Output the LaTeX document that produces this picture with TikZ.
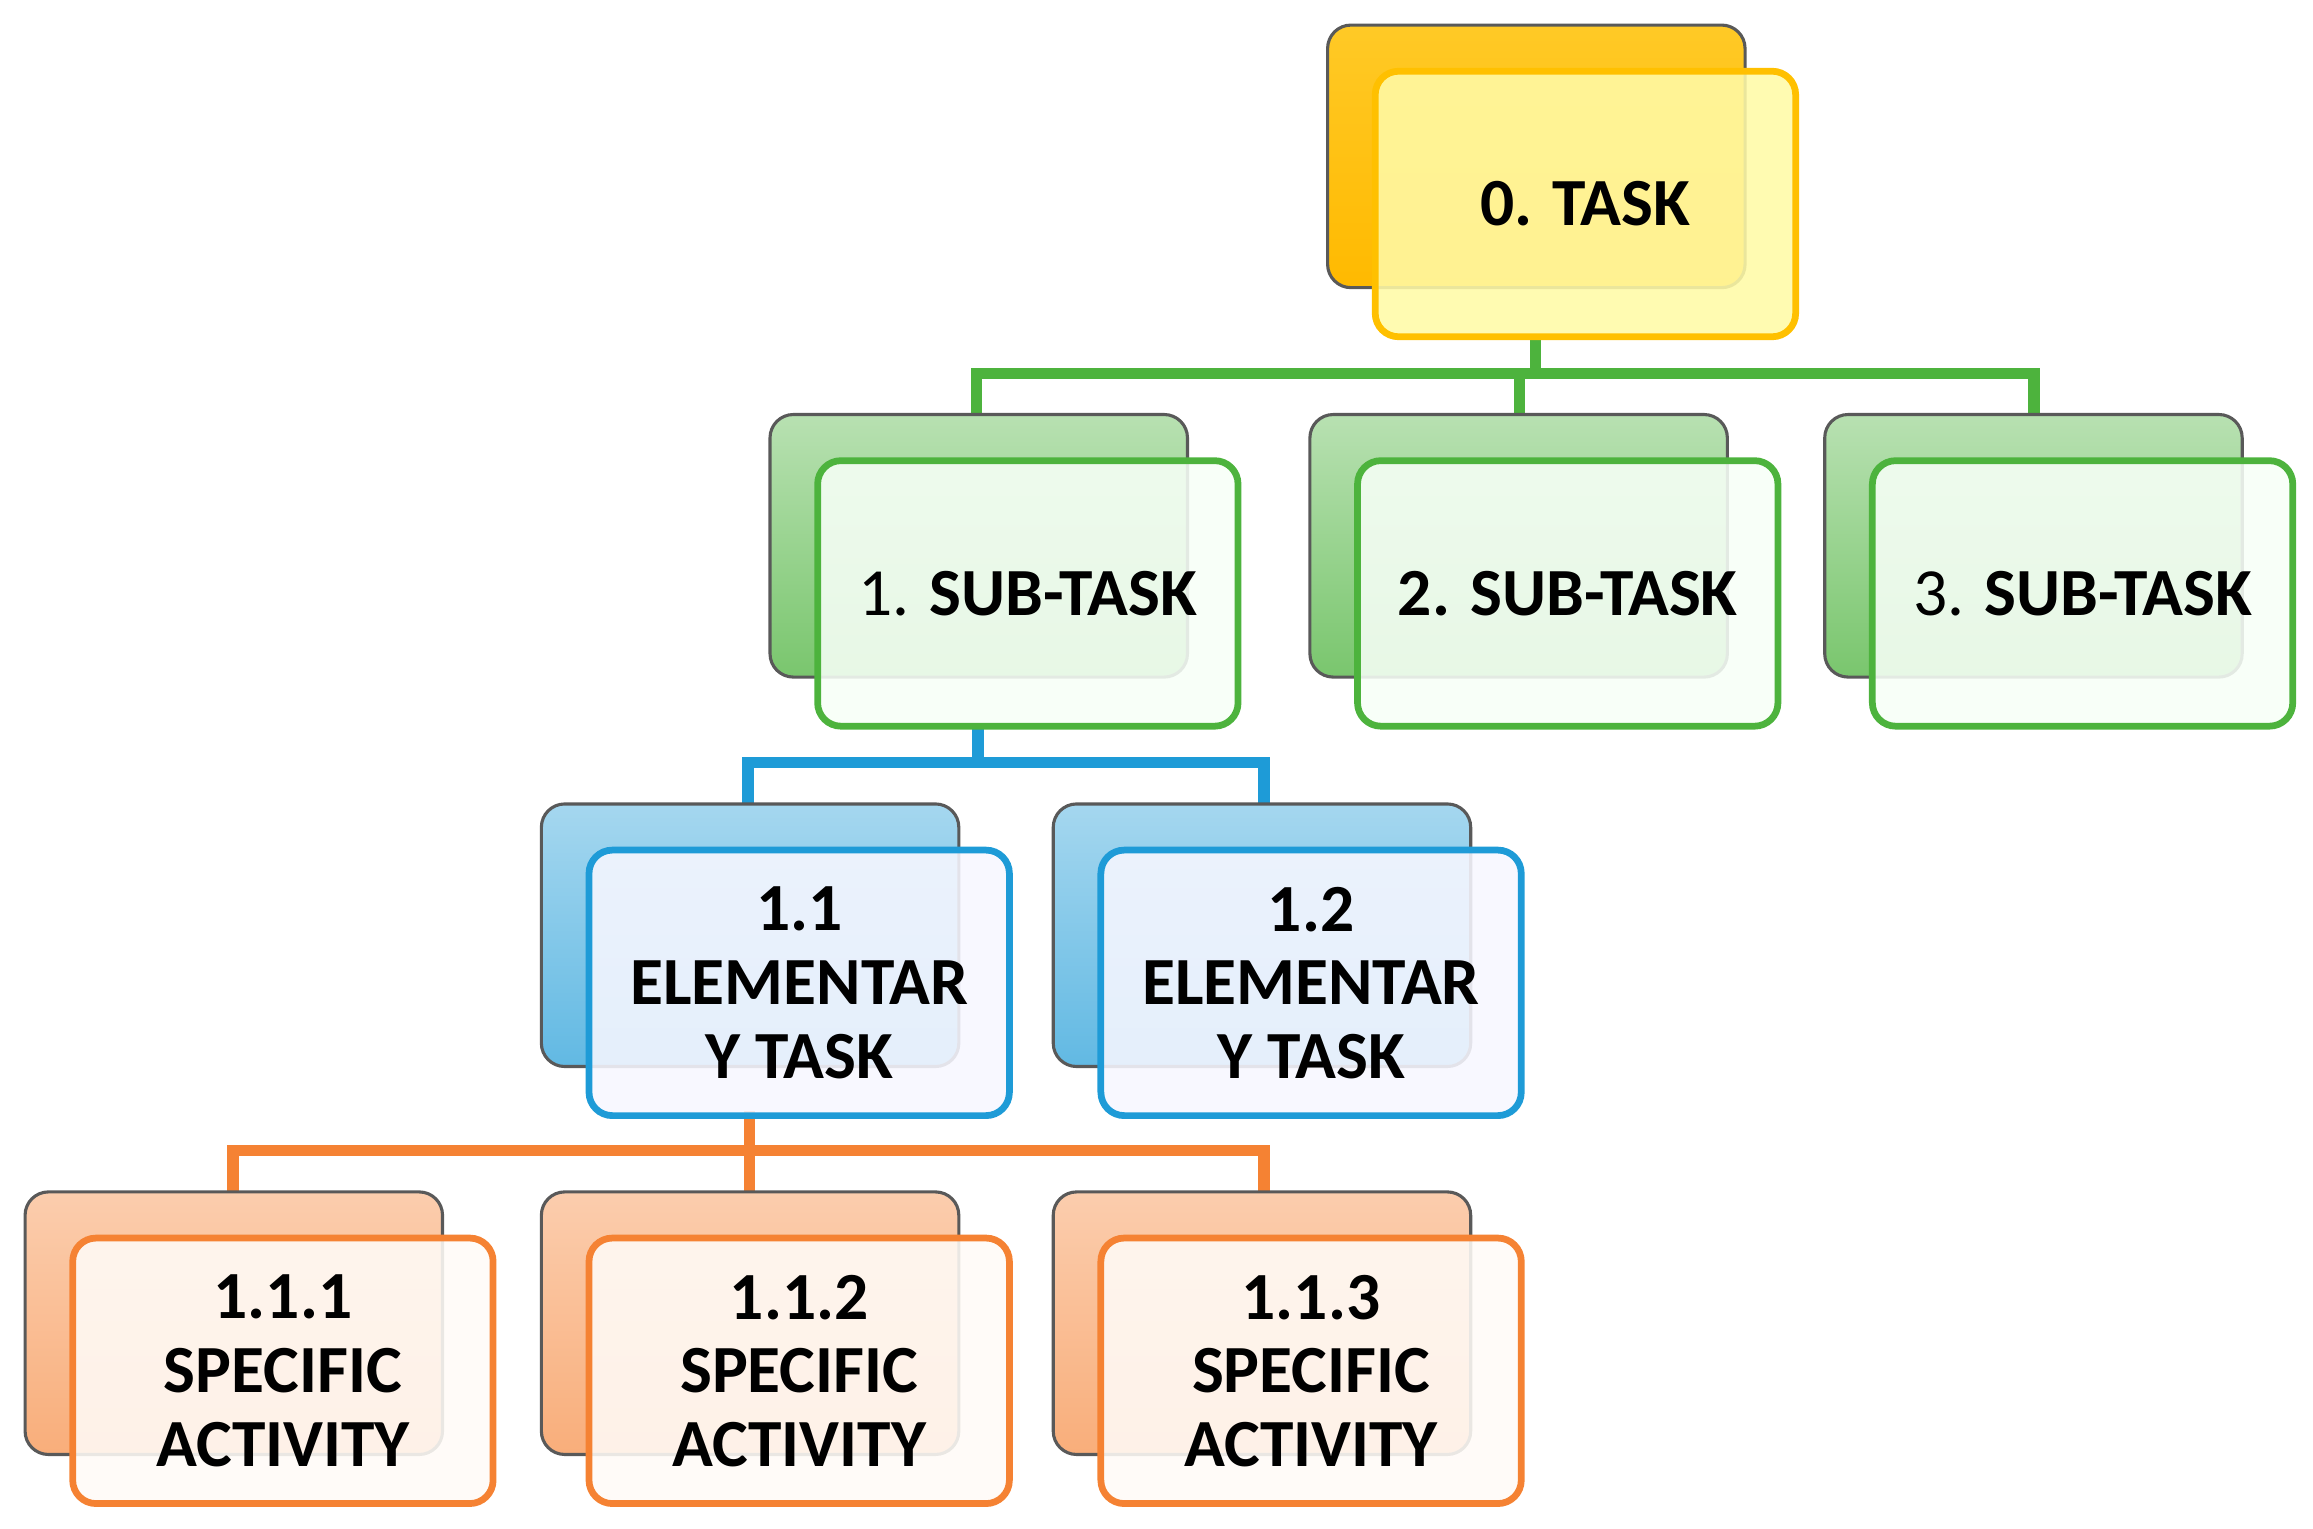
\documentclass[tikz,border=0pt]{standalone}
\usepackage{fontspec}
\setmainfont{Carlito}
\begin{document}
\begin{tikzpicture}[x=0.01cm,y=-0.01cm,
 back/.style={rounded corners=4.5pt, draw=gray!70!black, line width=0.6pt},
 front/.style={rounded corners=4.5pt, line width=1.3pt, fill opacity=0.88, text opacity=1, font=\bfseries\fontsize{13}{14.2}\selectfont, align=center},
 conn/.style={line width=2.2pt}]
\useasboundingbox (0,0) rectangle (1568,1036);
\definecolor{gold}{HTML}{FFC000}
\definecolor{grn}{HTML}{4DB33D}
\definecolor{blu}{HTML}{1E9BD7}
\definecolor{org}{HTML}{F58233}
% connectors
\coordinate (g0) at (1041,227); \coordinate (g1) at (1041,253);
\draw[conn,grn] (g0) -- (g1);
\draw[conn,grn] (662,281) |- (1379,253) -- (1379,281);
\draw[conn,grn] (1030,253) -- (1030,281);
\draw[conn,blu] (663,490) -- (663,517);
\draw[conn,blu] (507,545) |- (857,517) -- (857,545);
\draw[conn,org] (508,753) -- (508,808);
\draw[conn,org] (158,808) |- (857,780) -- (857,808);
% boxes
\newcommand{\pairbox}[7]{%
 \path[back, top color=#4, bottom color=#5] (#1,#2) rectangle ++(283,178);
 \node[front, draw=#6, fill=#7, minimum width=285*0.01cm, minimum height=180*0.01cm, anchor=north west] at (#1+30,#2+29) {#3};
}
\pairbox{900}{17}{0. TASK}{gold!85!white}{gold!90!orange}{gold}{yellow!35!white}
\pairbox{522}{281}{\mdseries 1. \bfseries SUB-TASK}{grn!40!white}{grn!75!white}{grn}{green!3!white}
\pairbox{888}{281}{2. SUB-TASK}{grn!40!white}{grn!75!white}{grn}{green!3!white}
\pairbox{1237}{281}{\mdseries 3. \bfseries SUB-TASK}{grn!40!white}{grn!75!white}{grn}{green!3!white}
\pairbox{367}{545}{1.1\\ELEMENTAR\\Y TASK}{blu!40!white}{blu!70!white}{blu}{blue!3!white}
\pairbox{714}{545}{1.2\\ELEMENTAR\\Y TASK}{blu!40!white}{blu!70!white}{blu}{blue!3!white}
\pairbox{17}{808}{1.1.1\\SPECIFIC\\ACTIVITY}{org!40!white}{org!65!white}{org}{orange!3!white}
\pairbox{367}{808}{1.1.2\\SPECIFIC\\ACTIVITY}{org!40!white}{org!65!white}{org}{orange!3!white}
\pairbox{714}{808}{1.1.3\\SPECIFIC\\ACTIVITY}{org!40!white}{org!65!white}{org}{orange!3!white}
\end{tikzpicture}
\end{document}
